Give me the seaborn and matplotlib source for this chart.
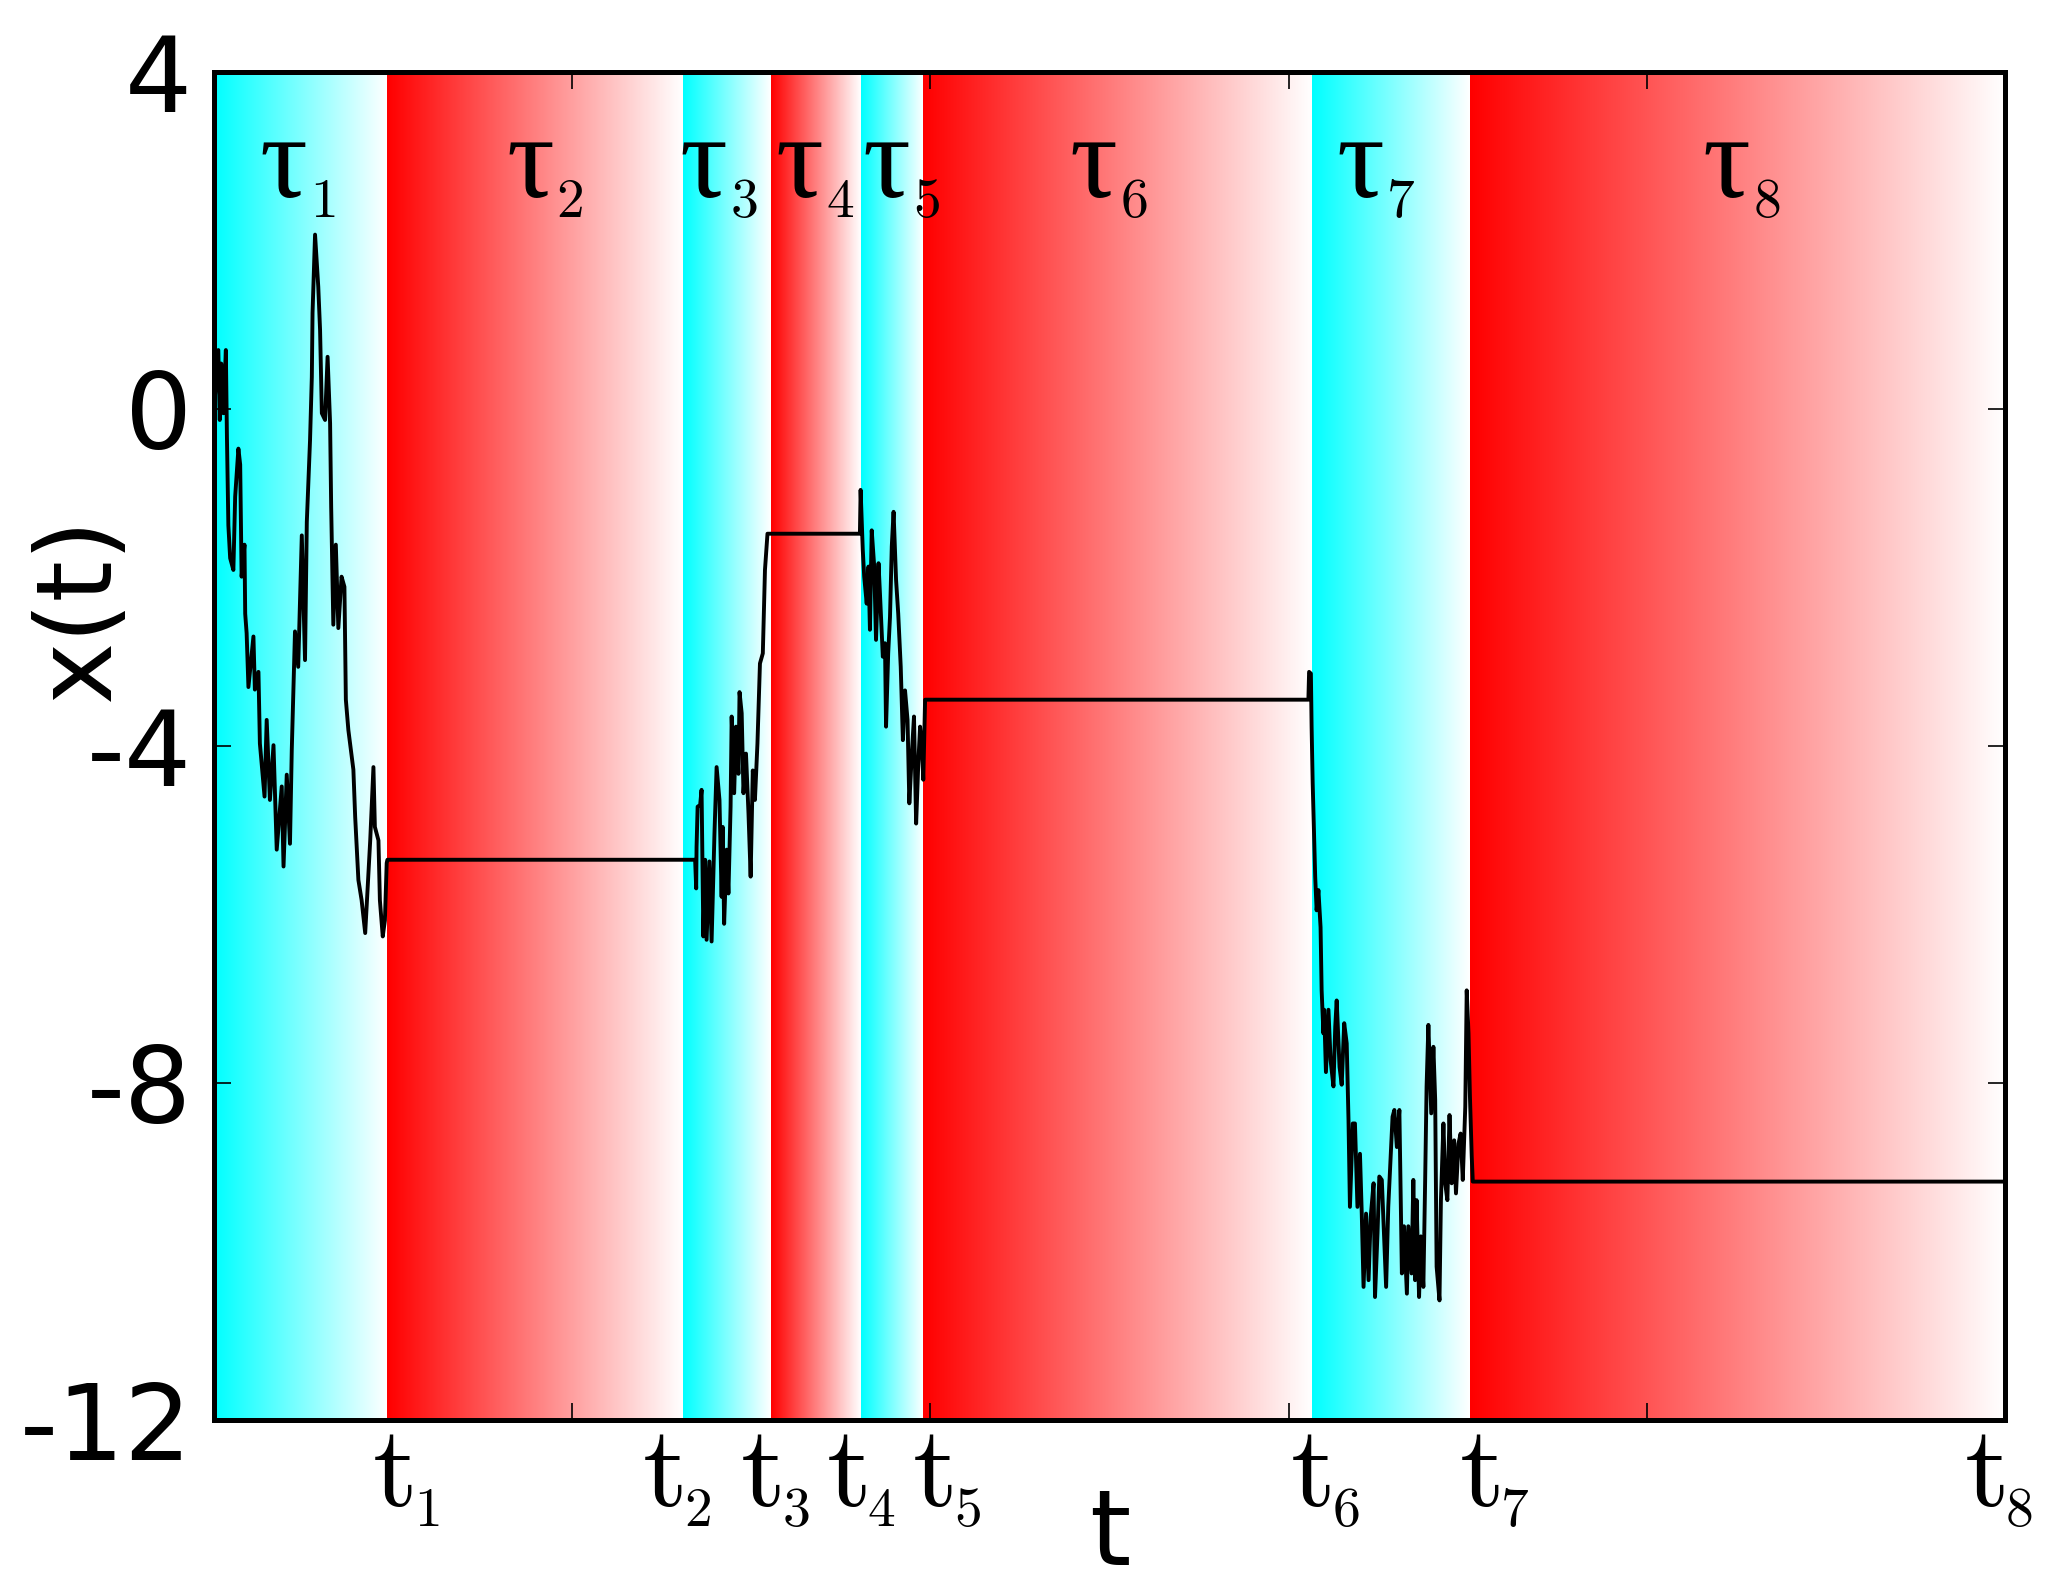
import numpy as np
import matplotlib
matplotlib.use("Agg")
import matplotlib.pyplot as plt
import matplotlib.transforms as mtransforms
from matplotlib.colors import LinearSegmentedColormap
import pandas as pd
import seaborn as sns

walk1 = [(0.000, 0.00), (0.012, 0.70), (0.016, -0.13), (0.020, 0.54), (0.026, -0.05),
         (0.033, 0.70), (0.036, -0.33), (0.040, -1.38), (0.045, -1.77), (0.054, -1.91),
         (0.059, -1.04), (0.068, -0.47), (0.073, -0.66), (0.077, -1.99), (0.085, -1.61),
         (0.087, -2.43), (0.091, -2.66), (0.096, -3.30), (0.110, -2.70), (0.114, -3.33),
         (0.124, -3.12), (0.128, -3.97), (0.141, -4.60), (0.147, -3.69), (0.156, -4.64),
         (0.166, -3.99), (0.175, -5.23), (0.189, -4.48), (0.194, -5.43), (0.203, -4.34),
         (0.212, -5.16), (0.217, -4.05), (0.226, -2.64), (0.235, -3.06), (0.245, -1.50),
         (0.254, -2.98), (0.259, -1.34), (0.268, -0.37), (0.273, 0.38), (0.275, 1.14),
         (0.282, 2.07), (0.291, 1.45), (0.296, 0.94), (0.301, -0.05), (0.310, -0.13),
         (0.317, 0.62), (0.324, -0.17), (0.327, -1.16), (0.333, -2.56), (0.340, -1.61),
         (0.347, -2.60), (0.356, -1.99), (0.364, -2.11), (0.368, -3.45), (0.375, -3.81),
         (0.389, -4.28), (0.394, -4.84), (0.403, -5.59), (0.412, -5.83), (0.422, -6.22),
         (0.431, -5.51), (0.436, -5.12), (0.445, -4.25), (0.449, -4.96), (0.459, -5.12),
         (0.463, -5.83), (0.471, -6.26), (0.477, -6.07), (0.482, -5.39), (0.484, -5.35)]

walk3 = [(1.343, -5.35), (1.346, -5.69), (1.347, -5.20), (1.350, -4.72), (1.357, -4.70),
         (1.361, -4.52), (1.366, -6.26), (1.371, -5.35), (1.375, -6.30), (1.383, -5.37),
         (1.389, -6.32), (1.397, -5.04), (1.403, -4.25), (1.411, -4.64), (1.417, -5.79),
         (1.420, -4.96), (1.424, -6.11), (1.431, -5.23), (1.436, -5.75), (1.442, -4.72),
         (1.445, -3.65), (1.452, -4.56), (1.457, -3.77), (1.464, -4.33), (1.467, -3.36),
         (1.473, -3.61), (1.478, -4.56), (1.485, -4.09), (1.492, -4.80), (1.498, -5.55),
         (1.504, -4.29), (1.510, -4.64), (1.517, -3.97), (1.524, -3.02), (1.532, -2.90),
         (1.538, -1.91), (1.545, -1.48), (1.803, -1.48)]

walk5 = [(1.805, -0.96), (1.811, -1.67), (1.815, -1.99), (1.822, -2.31), (1.827, -1.87),
         (1.831, -2.62), (1.836, -1.44), (1.843, -1.87), (1.848, -2.74), (1.855, -1.83),
         (1.859, -2.19), (1.867, -2.94), (1.873, -2.78), (1.876, -3.77), (1.882, -2.90),
         (1.887, -2.47), (1.892, -1.63), (1.897, -1.22), (1.904, -2.03), (1.910, -2.43),
         (1.917, -3.06), (1.923, -3.93), (1.929, -3.34), (1.936, -3.69), (1.941, -4.68),
         (1.948, -4.09), (1.954, -3.65), (1.960, -4.92), (1.966, -4.21), (1.971, -3.77),
         (1.976, -4.01), (1.980, -4.40), (1.985, -3.45)]

walk7 = [(3.055, -3.45), (3.057, -3.12), (3.062, -3.14), (3.064, -3.77), (3.067, -4.44),
         (3.071, -5.08), (3.074, -5.55), (3.078, -5.95), (3.083, -5.71), (3.089, -6.15),
         (3.092, -6.90), (3.097, -7.41), (3.099, -7.13), (3.104, -7.87), (3.111, -7.13),
         (3.117, -7.73), (3.125, -8.04), (3.130, -7.33), (3.134, -7.02), (3.142, -7.81),
         (3.148, -8.02), (3.155, -7.29), (3.162, -7.53), (3.167, -8.44), (3.171, -9.47),
         (3.179, -8.48), (3.185, -8.48), (3.192, -9.47), (3.199, -8.84), (3.204, -9.55),
         (3.209, -10.42), (3.216, -9.55), (3.223, -10.34), (3.229, -9.59), (3.237, -9.19),
         (3.241, -10.54), (3.248, -9.78), (3.253, -9.11), (3.260, -9.15), (3.266, -9.78),
         (3.272, -10.42), (3.278, -9.47), (3.285, -8.84), (3.290, -8.40), (3.295, -8.32),
         (3.302, -8.76), (3.309, -8.32), (3.316, -10.26), (3.322, -9.70), (3.330, -10.50),
         (3.334, -9.70), (3.343, -10.26), (3.348, -9.15), (3.353, -10.34), (3.357, -9.39),
         (3.364, -10.54), (3.369, -9.82), (3.376, -10.42), (3.381, -9.15), (3.385, -8.04),
         (3.390, -7.31), (3.398, -8.36), (3.404, -7.57), (3.409, -8.20), (3.413, -10.18),
         (3.421, -10.58), (3.425, -9.39), (3.432, -8.48), (3.437, -9.19), (3.443, -9.39),
         (3.449, -8.38), (3.455, -9.19), (3.462, -8.68), (3.467, -9.31), (3.474, -8.72),
         (3.480, -8.60), (3.486, -9.15), (3.493, -8.28), (3.497, -6.90), (3.502, -7.41),
         (3.506, -8.16), (3.511, -8.87), (3.514, -9.17)]

final_hold = [(5.000, -9.17)]

# regime boundaries t_0 .. t_8 and the colour of each interval
boundaries = [0.0, 0.484, 1.310, 1.555, 1.805, 1.980, 3.065, 3.506, 5.0]
band_colors = ["#00ffff", "#ff0000", "#00ffff", "#ff0000",
               "#00ffff", "#ff0000", "#00ffff", "#ff0000"]

# label positions (centre of the main glyph)
tau_label_x = [0.195, 0.884, 1.368, 1.636, 1.879, 2.457, 3.200, 4.224]
t_label_x = [0.494, 1.247, 1.522, 1.760, 2.002, 3.056, 3.527, 4.937]

y_ticks = [-12, -8, -4, 0, 4]
x_ticks = [1, 2, 3, 4]

sns.set_style("white")
plt.rcParams["font.family"] = ["DejaVu Sans"]
plt.rcParams["mathtext.fontset"] = "cm"
plt.rcParams["axes.unicode_minus"] = False
for key in ["text.color", "axes.labelcolor", "xtick.color", "ytick.color", "axes.edgecolor"]:
    plt.rcParams[key] = "black"

fig = plt.figure(figsize=(20.58, 15.90), dpi=100)
ax = fig.add_axes([0.1040, 0.1069, 0.8703, 0.8478])

# gradient bands: full colour on the left fading to white on the right
grad = np.linspace(0, 1, 256).reshape(1, -1)
for i, col in enumerate(band_colors):
    cmap = LinearSegmentedColormap.from_list(f"band{i}", [col, "white"])
    ax.imshow(grad, extent=[boundaries[i], boundaries[i + 1], -12, 4],
              aspect="auto", cmap=cmap, interpolation="bilinear", zorder=0)

path = walk1 + walk3 + walk5 + walk7 + final_hold
df = pd.DataFrame(path, columns=["t", "x"])
sns.lineplot(data=df, x="t", y="x", sort=False, estimator=None,
             color="black", linewidth=2.8, ax=ax, zorder=3)

ax.set_xlim(0, 5)
ax.set_ylim(-12, 4)

ax.set_xticks(x_ticks)
ax.set_xticklabels([])
ax.set_yticks(y_ticks)
ax.set_yticklabels([str(v) for v in y_ticks], fontsize=76)
ax.tick_params(which="both", direction="in", bottom=True, left=True, top=True,
               right=True, length=12, width=1.2, color="black", pad=16)
ax.set_axisbelow(False)

for sp in ax.spines.values():
    sp.set_linewidth(3.6)
    sp.set_color("black")
    sp.set_zorder(5)

ax.set_xlabel("t", fontsize=76)
ax.xaxis.label.set_va("baseline")
ax.xaxis.set_label_coords(0.5, -0.1076)
ax.set_ylabel("x(t)", fontsize=76)
ax.yaxis.label.set_va("center")
ax.yaxis.set_label_coords(-0.0748, 0.602)

trans = mtransforms.blended_transform_factory(ax.transData, ax.transAxes)

# tau_i labels: upright serif tau, small computer-modern subscript
for i, xp in enumerate(tau_label_x):
    ax.annotate("\u03c4", xy=(xp, 0.9073), xycoords=trans,
                xytext=(17, 0), textcoords="offset points",
                ha="right", va="baseline", fontsize=86,
                family=["Liberation Serif"], zorder=6)
    ax.annotate(r"$\mathrm{%d}$" % (i + 1), xy=(xp, 0.9073), xycoords=trans,
                xytext=(18.5, -14.5), textcoords="offset points",
                ha="left", va="baseline", fontsize=40, zorder=6)

# t_i labels below the axis
for i, xp in enumerate(t_label_x):
    ax.annotate(r"$\mathrm{t}$", xy=(xp, -0.0638), xycoords=trans,
                xytext=(15.5, 0), textcoords="offset points",
                ha="right", va="baseline", fontsize=83, annotation_clip=False)
    ax.annotate(r"$\mathrm{%d}$" % (i + 1), xy=(xp, -0.0638), xycoords=trans,
                xytext=(16.5, -14.5), textcoords="offset points",
                ha="left", va="baseline", fontsize=40, annotation_clip=False)

fig.savefig("out.png", dpi=100, facecolor="white")
